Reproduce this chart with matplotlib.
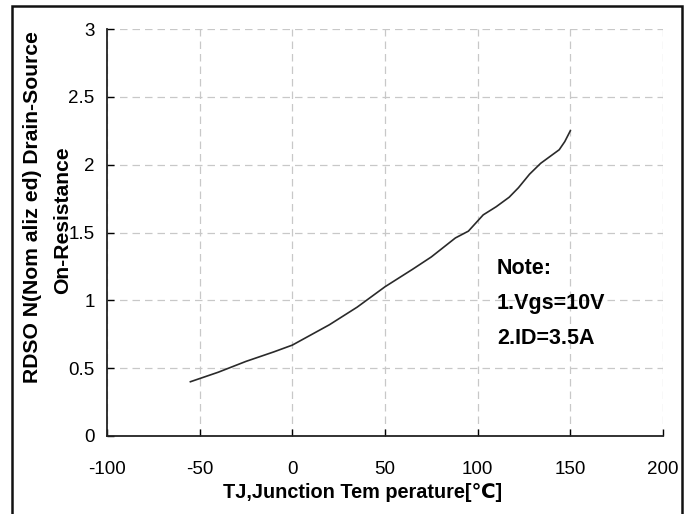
import matplotlib
matplotlib.use("Agg")
import matplotlib.pyplot as plt
from matplotlib.patches import Rectangle

# junction temperature (C) vs normalized on-resistance
temp_c = [-55, -40, -25, -10, 0, 20, 35, 50, 65, 75, 88, 95, 103, 110, 117, 122, 128, 134, 140, 144, 147, 150]
rds_norm = [0.40, 0.47, 0.55, 0.62, 0.67, 0.82, 0.95, 1.10, 1.23, 1.32, 1.46, 1.51, 1.63, 1.69, 1.76, 1.83, 1.93, 2.01, 2.07, 2.11, 2.17, 2.25]

x_ticks = [-100, -50, 0, 50, 100, 150, 200]
y_ticks = [0, 0.5, 1, 1.5, 2, 2.5, 3]
y_tick_labels = ["0", "0.5", "1", "1.5", "2", "2.5", "3"]
note_lines = ["Note:", "1.Vgs=10V", "2.ID=3.5A"]

W, H = 691, 514
fonts = ["Liberation Sans", "DejaVu Sans"]
plt.rcParams["font.family"] = fonts
plt.rcParams["axes.unicode_minus"] = False

fig = plt.figure(figsize=(W / 100, H / 100), dpi=100)
ax = fig.add_axes([107 / W, 1 - 436 / H, (663 - 107) / W, (436 - 29) / H])

ax.plot(temp_c, rds_norm, color="#2a2a2a", lw=1.2, zorder=3)

ax.set_xlim(-100, 200)
ax.set_ylim(0, 3)
ax.set_xticks(x_ticks)
ax.set_yticks(y_ticks)
ax.set_yticklabels(y_tick_labels)
ax.grid(True, color="#c8c8c8", lw=0.9, ls=(0, (6, 4)))
ax.set_axisbelow(True)

for s in ["top", "right"]:
    ax.spines[s].set_visible(False)
for s in ["left", "bottom"]:
    ax.spines[s].set_linewidth(1.3)
    ax.spines[s].set_color("#222222")

ax.tick_params(axis="x", direction="in", length=5, width=1, pad=18, labelsize=13.5)
ax.tick_params(axis="y", direction="in", length=5, width=1, pad=9, labelsize=13.5)

# axis titles
fig.text(363 / W, 1 - 492 / H, "TJ,Junction Tem perature[\u2103]", ha="center", va="center",
         fontsize=14.3, fontweight="bold", family=fonts)
fig.text(33 / W, 1 - 207 / H, "RDSO N(Nom aliz ed) Drain-Source", ha="center", va="center",
         rotation=90, fontsize=15.2, fontweight="bold", family=fonts)
fig.text(63 / W, 1 - 220 / H, "On-Resistance", ha="center", va="center",
         rotation=90, fontsize=15.2, fontweight="bold", family=fonts)

# note block
for i, line in enumerate(note_lines):
    fig.text(497 / W, 1 - (269 + 35 * i) / H, line, ha="left", va="center",
             fontsize=15.5, fontweight="bold", family=fonts)

# outer frame
fig.patches.append(Rectangle((12 / W, -0.01), (682 - 12) / W, 1 - 6 / H + 0.01,
                             transform=fig.transFigure, fill=False, lw=1.8,
                             edgecolor="#111111"))

fig.savefig("out.png", dpi=100)
